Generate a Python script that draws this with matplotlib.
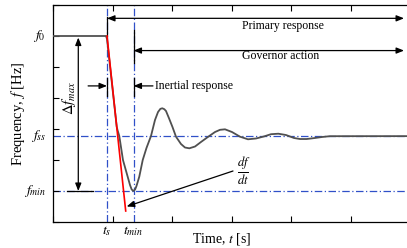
import matplotlib
matplotlib.use('Agg')
import matplotlib.pyplot as plt

plt.rcParams['font.family'] = ['Liberation Serif', 'DejaVu Serif']
plt.rcParams['mathtext.fontset'] = 'stix'

# ---------------- dados ----------------
f0 = 6.0
f_ss = 2.77
f_min = 1.0
t_s = 0.908
t_min = 1.353

# curva de frequencia (tempo, frequencia)
tempo = [0.0, 0.891, 0.908, 1.071, 1.084, 1.114, 1.176, 1.255, 1.294, 1.322, 1.350,
         1.380, 1.403, 1.450, 1.508, 1.571, 1.647, 1.714, 1.765, 1.805, 1.837, 1.870,
         1.899, 1.950, 2.008, 2.067, 2.151, 2.218, 2.291, 2.387, 2.487, 2.610, 2.723,
         2.807, 2.891, 3.008, 3.143, 3.277, 3.412, 3.546, 3.664, 3.787, 3.916, 4.050,
         4.151, 4.264, 4.403, 4.521, 4.655, 6.0]
freq = [6.0, 6.0, 5.90, 3.074, 2.968, 2.774, 2.0, 1.461, 1.194, 1.05, 1.0,
        1.05, 1.161, 1.461, 2.0, 2.387, 2.774, 3.29, 3.548, 3.65, 3.668, 3.64,
        3.581, 3.345, 3.065, 2.752, 2.516, 2.403, 2.377, 2.435, 2.581, 2.752, 2.903,
        2.974, 2.990, 2.903, 2.752, 2.668, 2.694, 2.760, 2.832, 2.848, 2.806, 2.710,
        2.677, 2.677, 2.710, 2.742, 2.768, 2.77]

# reta tangente df/dt
tangente_t = [0.908, 1.222]
tangente_f = [6.0, 0.355]

azul = '#3050c8'
cinza = '#505050'

fig = plt.figure(figsize=(4.07, 2.48), dpi=100)
ax = fig.add_axes([53/407, 26/248, 357/407, 217/248])
ax.set_xlim(0, 6)
ax.set_ylim(0, 7)

# linhas de referencia tracejadas
ax.axhline(f_ss, color=azul, lw=0.9, ls=(0, (6, 2, 1, 2)), zorder=1)
ax.axhline(f_min, color=azul, lw=0.9, ls=(0, (6, 2, 1, 2)), zorder=1)
ax.axvline(t_s, color=azul, lw=0.9, ls=(0, (6, 2, 1, 2)), zorder=1)
ax.axvline(t_min, color=azul, lw=0.9, ls=(0, (6, 2, 1, 2)), zorder=1)

# trechos pretos sobre as verticais
ax.plot([t_s, t_s], [6.0, 6.6], color='black', lw=0.9, zorder=2)
ax.plot([t_min, t_min], [5.13, 6.19], color='black', lw=0.9, zorder=2)
ax.plot([t_s, t_s], [4.05, 4.65], color='black', lw=0.9, zorder=2)
ax.plot([t_min, t_min], [4.05, 4.65], color='black', lw=0.9, zorder=2)
ax.plot([0.235, 0.67], [f_min, f_min], color='black', lw=0.9, zorder=2)

# curva e tangente
ax.plot(tempo, freq, color=cinza, lw=1.3, zorder=3)
ax.plot(tangente_t, tangente_f, color='red', lw=1.2, zorder=4)

seta = dict(arrowstyle='<|-|>,head_length=0.45,head_width=0.18', color='black', lw=0.9,
            shrinkA=0, shrinkB=0)
seta1 = dict(arrowstyle='-|>,head_length=0.45,head_width=0.18', color='black', lw=0.9,
             shrinkA=0, shrinkB=0)

# primary response
ax.annotate('', xy=(5.9, 6.57), xytext=(t_s, 6.57), arrowprops=seta)
ax.text(3.87, 6.32, 'Primary response', fontsize=8.5, ha='center', va='center')
# governor action
ax.annotate('', xy=(5.9, 5.53), xytext=(t_min, 5.53), arrowprops=seta)
ax.text(3.82, 5.35, 'Governor action', fontsize=8.5, ha='center', va='center')
# inertial response
ax.annotate('', xy=(t_s, 4.39), xytext=(0.59, 4.39), arrowprops=seta1)
ax.annotate('', xy=(t_min, 4.39), xytext=(1.68, 4.39), arrowprops=seta1)
ax.text(1.71, 4.39, 'Inertial response', fontsize=8.5, ha='left', va='center')
# delta f max
ax.annotate('', xy=(0.425, f0 - 0.05), xytext=(0.425, f_min), arrowprops=seta)
ax.text(0.27, 4.0, r'$\Delta f_{max}$', fontsize=10.5, rotation=90, ha='center', va='center')
# df/dt
ax.annotate('', xy=(1.238, 0.5), xytext=(3.025, 1.645), arrowprops=seta1)
ax.text(3.2, 1.65, r'$\frac{df}{dt}$', fontsize=13, ha='center', va='center')

# ticks
ax.set_xticks(range(0, 7))
ax.set_yticks(range(0, 8))
ax.set_xticklabels([])
ax.set_yticklabels([])
ax.tick_params(direction='in', length=4, width=0.8, top=True, right=False)
ax.spines['right'].set_visible(False)
for s in ['left', 'top', 'bottom']:
    ax.spines[s].set_linewidth(0.9)

# rotulos das grandezas
ax.text(-0.12, f0, r'$f_0$', fontsize=10, ha='right', va='center')
ax.text(-0.12, f_ss, r'$f_{ss}$', fontsize=10, ha='right', va='center')
ax.text(-0.12, f_min, r'$f_{min}$', fontsize=10, ha='right', va='center')
ax.text(t_s, -0.3, r'$t_s$', fontsize=10, ha='center', va='center')
ax.text(t_min, -0.3, r'$t_{min}$', fontsize=10, ha='center', va='center')

ax.set_ylabel(r'Frequency, $f$ [Hz]', fontsize=10.5, va='center')
ax.yaxis.set_label_coords((18 - 53) / 357, 0.5)
ax.set_xlabel(r'Time, $t$ [s]', fontsize=10, va='center')
ax.xaxis.set_label_coords((222 - 53) / 357, -(239 - 222) / 217)

fig.savefig('out.png', dpi=100)
